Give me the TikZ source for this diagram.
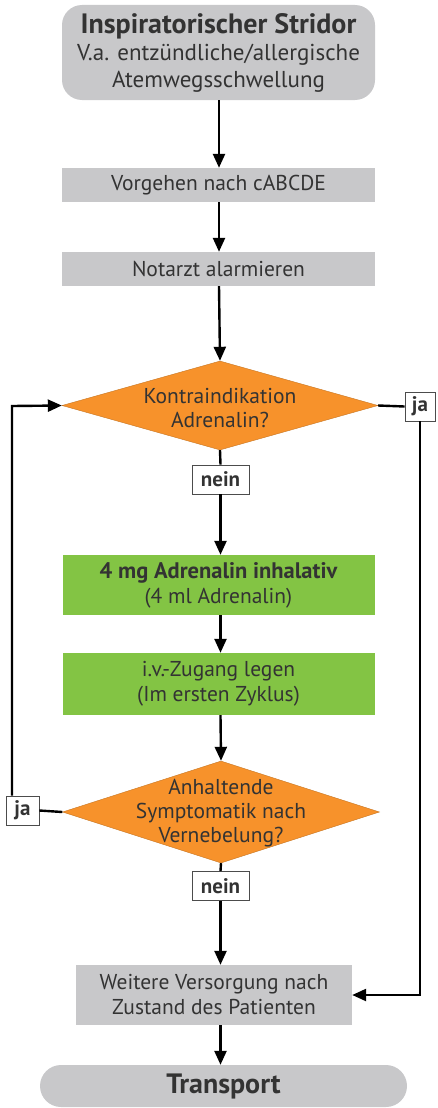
\documentclass[tikz,border=0pt]{standalone}
\usepackage{fontspec}
\setmainfont{PT Sans}
\usetikzlibrary{shapes.geometric,arrows.meta}
\definecolor{boxgray}{HTML}{C8C8CA}
\definecolor{actgreen}{HTML}{83C444}
\definecolor{decorange}{HTML}{F7922B}
\definecolor{txtgray}{HTML}{333333}
\begin{document}
\begin{tikzpicture}[x=1pt,y=-1pt,
  every node/.style={text=txtgray, align=center, inner sep=0pt},
  graybox/.style={fill=boxgray, draw=none, font=\fontsize{21.5}{25}\selectfont},
  greenbox/.style={fill=actgreen, draw=none, font=\fontsize{21.5}{25}\selectfont},
  decision/.style={diamond, fill=decorange, draw=decorange!80!black, line width=0.4pt},
  dectext/.style={font=\fontsize{21.5}{24}\selectfont},
  answer/.style={fill=white, draw=black!70, line width=0.8pt, font=\bfseries\fontsize{21}{22}\selectfont},
  flow/.style={line width=2.4pt, draw=black},
  arr/.style={flow, -{Triangle[length=14pt,width=12pt]}}
]
\useasboundingbox (0,0) rectangle (437,1108);

% main column
\node[graybox, rounded corners=20pt, minimum width=313, minimum height=95,
      font=\fontsize{23}{27}\selectfont] (start) at (218.5,52.5)
  {{\bfseries\fontsize{28}{29}\selectfont Inspiratorischer Stridor}\\V.a. entzündliche/allergische\\Atemwegsschwellung};
\node[graybox, minimum width=313, minimum height=34] (abc) at (218.5,185) {Vorgehen nach cABCDE};
\node[graybox, minimum width=313, minimum height=34] (na) at (218.5,269) {Notarzt alarmieren};

\node[decision, minimum width=316, minimum height=89] (d1) at (220,405.5) {};
\node[dectext] (d1t) at (220,408) {Kontraindikation\\Adrenalin?};
\node[answer, minimum width=57, minimum height=29] (nein1) at (220.5,479.5) {nein};
\node[answer, minimum width=30, minimum height=29] (ja1) at (420,406.5) {ja};

\node[greenbox, minimum width=312, minimum height=60] (adr) at (218.5,585)
  {{\bfseries\fontsize{22.5}{25}\selectfont 4 mg Adrenalin inhalativ}\\(4 ml Adrenalin)};
\node[greenbox, minimum width=312, minimum height=62] (iv) at (218.5,684)
  {i.v.-Zugang legen\\(Im ersten Zyklus)};

\node[decision, minimum width=317, minimum height=102] (d2) at (221,812) {};
\node[dectext] (d2t) at (221,813) {Anhaltende\\Symptomatik nach\\Vernebelung?};
\node[answer, minimum width=57, minimum height=29] (nein2) at (220.5,886) {nein};
\node[answer, minimum width=33, minimum height=29] (ja2) at (22.5,810.5) {ja};

\node[graybox, minimum width=276, minimum height=60] (wv) at (214,995)
  {Weitere Versorgung nach\\Zustand des Patienten};
\node[graybox, rounded corners=21pt, minimum width=367, minimum height=42,
      font=\bfseries\fontsize{28}{29}\selectfont] (tr) at (223.5,1086) {Transport};

% connectors
\draw[arr] (start.south -| 219,0) -- (abc.north -| 219,0);
\draw[arr] (abc.south -| 219,0) -- (na.north -| 219,0);
\draw[arr] (na.south -| 219,0) -- (d1.north);
\draw[flow] (d1.south) -- (nein1.north);
\draw[arr] (nein1.south) -- (adr.north -| nein1.south);
\draw[arr] (adr.south -| nein1.south) -- (iv.north -| nein1.south);
\draw[arr] (iv.south -| nein1.south) -- (d2.north);
\draw[flow] (d2.south) -- (nein2.north);
\draw[arr] (nein2.south) -- (wv.north -| nein2.south);
\draw[arr] (wv.south -| nein2.south) -- (tr.north -| nein2.south);

% yes branches
\draw[flow] (d1.east) -- (ja1.west);
\draw[arr] (ja1.south) |- (wv.east);
\draw[flow] (d2.west) -- (ja2.east);
\coordinate (back) at (12,406);
\draw[arr] (ja2.north -| back) -- (back) -- (d1.west);
\end{tikzpicture}
\end{document}
